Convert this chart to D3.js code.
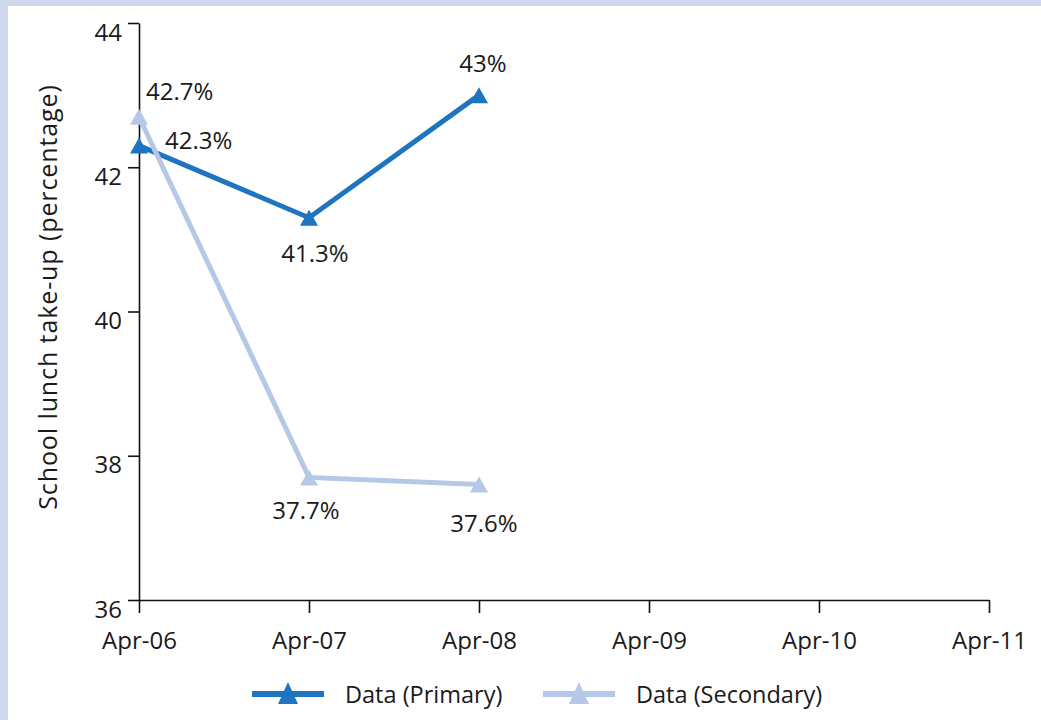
<!DOCTYPE html>
<html>
<head>
<meta charset="utf-8">
<script src="https://cdn.jsdelivr.net/npm/d3@7"></script>
<style>
  body { margin: 0; background: #fff; }
  text { font-family: "Open Sans", "Noto Sans", sans-serif; fill: #1a1a1a; }
</style>
</head>
<body>
<div id="vis"></div>
<script>
// data
var months = ["Apr-06", "Apr-07", "Apr-08", "Apr-09", "Apr-10", "Apr-11"];
var primary = [42.3, 41.3, 43];
var secondary = [42.7, 37.7, 37.6];
var yTicks = [36, 38, 40, 42, 44];
var seriesNames = ["Data (Primary)", "Data (Secondary)"];

// label placement next to each point (dx, dy, anchor)
var primaryLabelPos = [[26, 3.5, "start"], [6, 44, "middle"], [4, -23, "middle"]];
var secondaryLabelPos = [[7, -17, "start"], [-3, 42, "middle"], [5, 47, "middle"]];

var width = 1041, height = 720;
var darkBlue = "#1f74bf", lightBlue = "#b6c8e8";

var svg = d3.select("#vis").append("svg")
    .attr("width", width)
    .attr("height", height);

// frame
svg.append("rect").attr("width", width).attr("height", height).attr("fill", "#d0d8f0");
svg.append("rect").attr("x", 8).attr("y", 6).attr("width", width - 8).attr("height", height - 6).attr("fill", "#fff");

var x = d3.scalePoint().domain(months).range([139, 989]);
var y = d3.scaleLinear().domain([36, 44]).range([600, 23]);

// y axis
var yAxis = svg.append("g")
    .attr("transform", "translate(139,0)")
    .call(d3.axisLeft(y).tickValues(yTicks).tickSize(11).tickSizeOuter(0).tickPadding(6));
yAxis.selectAll("text").attr("dy", "0.71em").style("font-size", "24px");

// x axis
var xAxis = svg.append("g")
    .attr("transform", "translate(0,600)")
    .call(d3.axisBottom(x).tickSize(13).tickSizeOuter(0).tickPadding(19));
xAxis.selectAll("text").style("font-size", "24px");

svg.selectAll(".domain, .tick line").attr("stroke", "#111").attr("stroke-width", 1.6);
svg.selectAll(".tick text").attr("fill", "#1a1a1a").style("font-family", "'Open Sans', sans-serif");

// y title
svg.append("text")
    .attr("transform", "translate(57,297) rotate(-90)")
    .attr("text-anchor", "middle")
    .style("font-size", "25px")
    .style("letter-spacing", "0.9px")
    .text("School lunch take-up (percentage)");

var line = d3.line()
    .x(function(d, i) { return x(months[i]); })
    .y(function(d) { return y(d); });

var tri = "M0,-8L9,8L-9,8Z";

function drawSeries(values, color, labelPos) {
    svg.append("path")
        .datum(values)
        .attr("d", line)
        .attr("fill", "none")
        .attr("stroke", color)
        .attr("stroke-width", 5);
    svg.selectAll(null)
        .data(values)
        .enter()
        .append("path")
        .attr("d", tri)
        .attr("fill", color)
        .attr("transform", function(d, i) { return "translate(" + x(months[i]) + "," + y(d) + ")"; });
    svg.selectAll(null)
        .data(values)
        .enter()
        .append("text")
        .attr("x", function(d, i) { return x(months[i]) + labelPos[i][0]; })
        .attr("y", function(d, i) { return y(d) + labelPos[i][1]; })
        .attr("text-anchor", function(d, i) { return labelPos[i][2]; })
        .style("font-size", "24px")
        .text(function(d) { return d + "%"; });
}

drawSeries(primary, darkBlue, primaryLabelPos);
drawSeries(secondary, lightBlue, secondaryLabelPos);

// legend
var legendColors = [darkBlue, lightBlue];
var legendX = [252, 543];
var legend = svg.selectAll(".legend")
    .data(seriesNames)
    .enter()
    .append("g")
    .attr("class", "legend")
    .attr("transform", function(d, i) { return "translate(" + legendX[i] + ",694)"; });
legend.append("line")
    .attr("x1", 0).attr("x2", 72)
    .attr("stroke", function(d, i) { return legendColors[i]; })
    .attr("stroke-width", 6);
legend.append("path")
    .attr("d", "M0,-11L10,11L-10,11Z")
    .attr("transform", "translate(36,-1)")
    .attr("fill", function(d, i) { return legendColors[i]; });
legend.append("text")
    .attr("x", 93)
    .attr("y", 9)
    .style("font-size", "23.5px")
    .text(function(d) { return d; });
</script>
</body>
</html>
